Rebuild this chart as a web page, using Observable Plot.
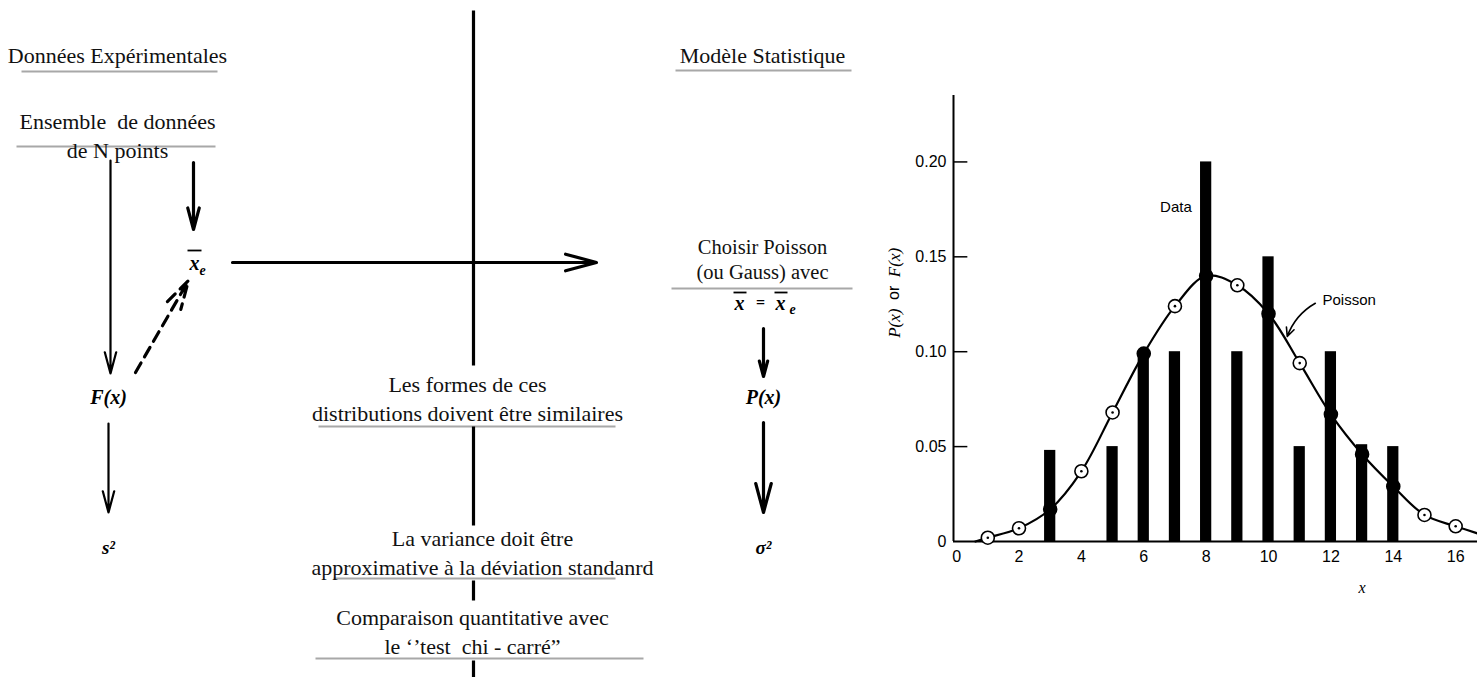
<!DOCTYPE html>
<html><head><meta charset="utf-8">
<script src="https://cdn.jsdelivr.net/npm/d3@7"></script>
<script src="https://cdn.jsdelivr.net/npm/@observablehq/plot@0.6"></script>
<style>
body{margin:0;background:#fff;}
#root{position:relative;width:1477px;height:677px;overflow:hidden;background:#fff}
#diagram{position:absolute;left:0;top:0}
#chart{position:absolute;left:870px;top:0}
#diagram text{white-space:pre}
</style></head><body><div id="root"><div id="diagram"></div><div id="chart"></div></div>
<script>
// ---------- chart values ----------
const dataX = [3, 5, 6, 7, 8, 9, 10, 11, 12, 13, 14];
const dataP = [0.048, 0.05, 0.10, 0.10, 0.20, 0.10, 0.15, 0.05, 0.10, 0.051, 0.05];
const poisX = [1, 2, 3, 4, 5, 6, 7, 8, 9, 10, 11, 12, 13, 14, 15, 16];
const poisP = [0.002, 0.007, 0.017, 0.037, 0.068, 0.099, 0.124, 0.140, 0.135, 0.120, 0.094, 0.067, 0.046, 0.029, 0.014, 0.008];
const curveEndsX = [0.6, 16.75];
const curveEndsP = [0.0, 0.004];
const xTicks = [0, 2, 4, 6, 8, 10, 12, 14, 16];
const yTicks = [0, 0.05, 0.10, 0.15, 0.20];

// ---------- diagram texts ----------
const headTexts = ["Données Expérimentales", "Modèle Statistique"];
const blockTexts = ["Ensemble  de données\nde N points", "Les formes de ces\ndistributions doivent être similaires",
  "La variance doit être\napproximative à la déviation standanrd",
  "Comparaison quantitative avec\nle \u2018\u2019test  chi - carré\u201D"];
const choiceText = ["Choisir Poisson\n(ou Gauss) avec"];

// ---------- diagram layout (pixel positions of the flow diagram) ----------
const headPos = [[117,55],[762,55]];
const blockPos = [[117,134],[467,397],[482,551],[472,630]];
const choicePos = [[762,258]];
const underlines = [[21,217,71],[16,215,146],[675,851,70],[671,852,288],[318,615,426],[333,615,578],[315,643,658]];
const plainLines = [[473,10,473,365],[473,426,473,525],[473,580,473,600],[473,660,473,677]];
const thickArrows = [
  {x1:232,y1:262,x2:596,y2:262},
  {x1:193,y1:162,x2:193,y2:229},
  {x1:763,y1:328,x2:763,y2:376},
  {x1:763,y1:422,x2:763,y2:512}
];
const thinArrows = [
  {x1:110,y1:160,x2:110,y2:373},
  {x1:108,y1:423,x2:108,y2:512}
];
const dashedArrows = [{x1:135,y1:372,x2:188,y2:280}];
const boldSymbols = [
  {x:108,y:397,t:"F(x)",s:20},
  {x:763,y:397,t:"P(x)",s:20},
  {x:194,y:263,t:"x",s:20},
  {x:739,y:303,t:"x",s:20},
  {x:780,y:303,t:"x",s:20},
  {x:108,y:547,t:"s\u00B2",s:19}
];
const smallSymbols = [
  {x:202,y:270,t:"e",s:14},
  {x:792,y:309,t:"e",s:14},
  {x:763,y:547,t:"\u03C3\u00B2",s:19}
];
const equalSigns = [{x:760,y:302,t:"="}];
const overbars = [[187,201,250],[733,746,292],[774,787,292]];

const serif = "'Liberation Serif', 'Times New Roman', serif";
const sans = "'Liberation Sans', Arial, Helvetica, sans-serif";

const toRows = (arr, pos) => arr.map((t, i) => ({t, x: pos[i][0], y: pos[i][1]}));
const arrowOpts = {x1: "x1", y1: "y1", x2: "x2", y2: "y2", stroke: "#000", headAngle: 30, headLength: 15};

const diagram = Plot.plot({
  width: 870, height: 677, margin: 0,
  x: {domain: [0, 870], range: [0, 870], axis: null},
  y: {domain: [0, 677], range: [0, 677], axis: null},
  style: {background: "transparent", overflow: "visible"},
  marks: [
    Plot.link(underlines, {x1: d => d[0], x2: d => d[1], y1: d => d[2], y2: d => d[2], stroke: "#a8a8a8", strokeWidth: 2}),
    Plot.link(plainLines, {x1: d => d[0], y1: d => d[1], x2: d => d[2], y2: d => d[3], stroke: "#000", strokeWidth: 3.2}),
    Plot.arrow(thickArrows, {...arrowOpts, strokeWidth: 3.2}),
    Plot.arrow(thinArrows, {...arrowOpts, strokeWidth: 2.2}),
    Plot.arrow(dashedArrows, {...arrowOpts, strokeWidth: 3.2, strokeDasharray: "11,7", headLength: 14}),
    Plot.text(toRows(headTexts, headPos), {x: "x", y: "y", text: "t", fontFamily: serif, fontSize: 22, fill: "#111"}),
    Plot.text(toRows(blockTexts, blockPos), {x: "x", y: "y", text: "t", fontFamily: serif, fontSize: 22, lineHeight: 1.28, fill: "#111"}),
    Plot.text(toRows(choiceText, choicePos), {x: "x", y: "y", text: "t", fontFamily: serif, fontSize: 20.5, lineHeight: 1.2, fill: "#111"}),
    Plot.text(boldSymbols, {x: "x", y: "y", text: "t", fontFamily: serif, fontSize: "s", fontWeight: "bold", fontStyle: "italic", fill: "#000"}),
    Plot.text(smallSymbols, {x: "x", y: "y", text: "t", fontFamily: serif, fontSize: "s", fontWeight: "bold", fontStyle: "italic", fill: "#000"}),
    Plot.text(equalSigns, {x: "x", y: "y", text: "t", fontFamily: serif, fontSize: 16, fontWeight: "bold", fill: "#000"}),
    Plot.link(overbars, {x1: d => d[0], x2: d => d[1], y1: d => d[2], y2: d => d[2], stroke: "#000", strokeWidth: 1.8})
  ]
});
document.getElementById("diagram").appendChild(diagram);

// ---------- chart ----------
const bars = dataX.map((x, i) => ({x, p: dataP[i]}));
const pois = poisX.map((x, i) => {
  const b = dataX.indexOf(x);
  return {x, p: poisP[i], onBar: b >= 0 && poisP[i] <= dataP[b] + 0.002};
});
const curvePts = [{x: curveEndsX[0], p: curveEndsP[0]}, ...pois, {x: curveEndsX[1], p: curveEndsP[1]}];
const halfW = 0.18;

const chart = Plot.plot({
  width: 607, height: 620,
  marginLeft: 83, marginRight: 0, marginTop: 95, marginBottom: 79,
  x: {domain: [-0.1, 16.7]},
  y: {domain: [0, 0.235]},
  style: {background: "transparent", overflow: "visible", color: "#000"},
  marks: [
    Plot.axisY(yTicks, {tickSize: 0, tickPadding: 7, tickFormat: d => d === 0 ? "0" : d.toFixed(2), fontSize: 16, fontFamily: sans, fill: "#000", label: null}),
    Plot.axisX(xTicks, {tickSize: 0, tickPadding: 9, fontSize: 16, fontFamily: sans, fill: "#000", label: null}),
    Plot.ruleY(yTicks.filter(d => d > 0), {x1: -0.1, x2: 0.36, stroke: "#000", strokeWidth: 1.5}),
    Plot.ruleX([-0.1], {y1: 0, y2: 0.235, stroke: "#000", strokeWidth: 2}),
    Plot.ruleY([0], {stroke: "#000", strokeWidth: 2.2}),
    Plot.line(curvePts, {x: "x", y: "p", curve: "catmull-rom", stroke: "#000", strokeWidth: 2.2}),
    Plot.dot(pois, {x: "x", y: "p", r: 6.5, fill: d => d.onBar ? "#000" : "#fff", stroke: "#000", strokeWidth: 1.6}),
    Plot.dot(pois.filter(d => !d.onBar), {x: "x", y: "p", r: 1.3, fill: "#000", stroke: null}),
    Plot.rect(bars, {x1: d => d.x - halfW, x2: d => d.x + halfW, y1: 0, y2: "p", fill: "#000"}),
    Plot.text(["Data"], {x: 7.03, y: 0.176, fontFamily: sans, fontSize: 15, fill: "#000"}),
    Plot.text(["Poisson"], {x: 11.73, y: 0.127, textAnchor: "start", fontFamily: sans, fontSize: 15, fill: "#000"}),
    Plot.arrow([0], {x1: 11.5, y1: 0.1255, x2: 10.6, y2: 0.108, bend: -20, stroke: "#000", strokeWidth: 1.6, headLength: 9, headAngle: 50}),
    Plot.text(["P(x)"], {x: -2.0, y: 0.115, rotate: -90, fontFamily: serif, fontStyle: "italic", fontSize: 17, fill: "#000"}),
    Plot.text(["or"], {x: -2.0, y: 0.131, rotate: -90, fontFamily: sans, fontSize: 16, fill: "#000"}),
    Plot.text(["F(x)"], {x: -2.0, y: 0.147, rotate: -90, fontFamily: serif, fontStyle: "italic", fontSize: 17, fill: "#000"}),
    Plot.text(["x"], {x: 13, y: 0, dy: 46, fontFamily: serif, fontStyle: "italic", fontSize: 16, fill: "#000"})
  ]
});
document.getElementById("chart").appendChild(chart);
</script></body></html>
